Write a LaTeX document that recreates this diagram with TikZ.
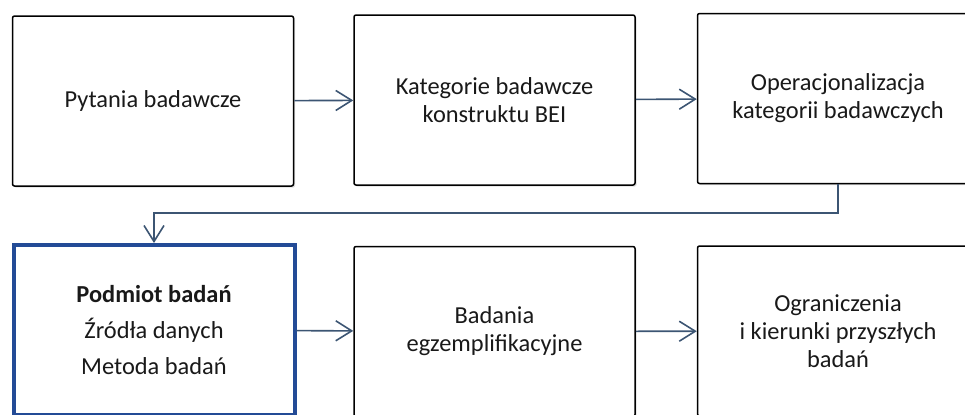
\documentclass[tikz,border=0pt]{standalone}
\usepackage{fontspec}
\setmainfont{Carlito}
\usetikzlibrary{arrows.meta}
\usetikzlibrary{shadows}
\definecolor{linkblue}{RGB}{60,85,115}
\definecolor{framblue}{RGB}{35,75,150}
\tikzset{
    stepbox/.style={draw=black,fill=white,line width=0.75pt,rounded corners=1pt,
        minimum width=140.5pt,minimum height=85pt,align=center,
        font=\fontsize{12.2}{14}\selectfont,text=black!90,
        drop shadow={shadow xshift=0.8pt,shadow yshift=-0.8pt,opacity=0.25}},
    mainbox/.style={stepbox,draw=framblue,line width=2pt,rounded corners=0pt},
    link/.style={-{Straight Barb[length=8pt,width=10pt,line width=0.8pt]},draw=linkblue,line width=0.8pt}
}

\begin{document}
\begin{tikzpicture}[x=0.5pt,y=-0.5pt]
        \useasboundingbox (0,0) rectangle (965,414);
        \clip (0,0) rectangle (965,414);
        % top row
        \node[stepbox] (questions) at (153,101) {Pytania badawcze};
        \node[stepbox] (categories) at (494.5,100) {Kategorie badawcze\\konstruktu BEI};
        \node[stepbox] (operational) at (838,98.5) {Operacjonalizacja\\kategorii badawczych};

        % bottom row
        \node[mainbox] (subject) at (154,330) {\textbf{Podmiot badań}\\[4pt]Źródła danych\\[4pt]Metoda badań};
        \node[stepbox] (examples) at (494.5,331.5) {Badania\\egzemplifikacyjne};
        \node[stepbox] (limits) at (838,331) {Ograniczenia\\i kierunki przyszłych\\badań};

        % arrows
        \coordinate (bend) at (838,213);
        \draw[link] (questions) -- (categories);
        \draw[link] (categories) -- (operational);
        \draw[link] (operational.south) -- (bend) -| (subject.north);
        \draw[link] (subject) -- (examples);
        \draw[link] (examples) -- (limits);
\end{tikzpicture}
\end{document}
